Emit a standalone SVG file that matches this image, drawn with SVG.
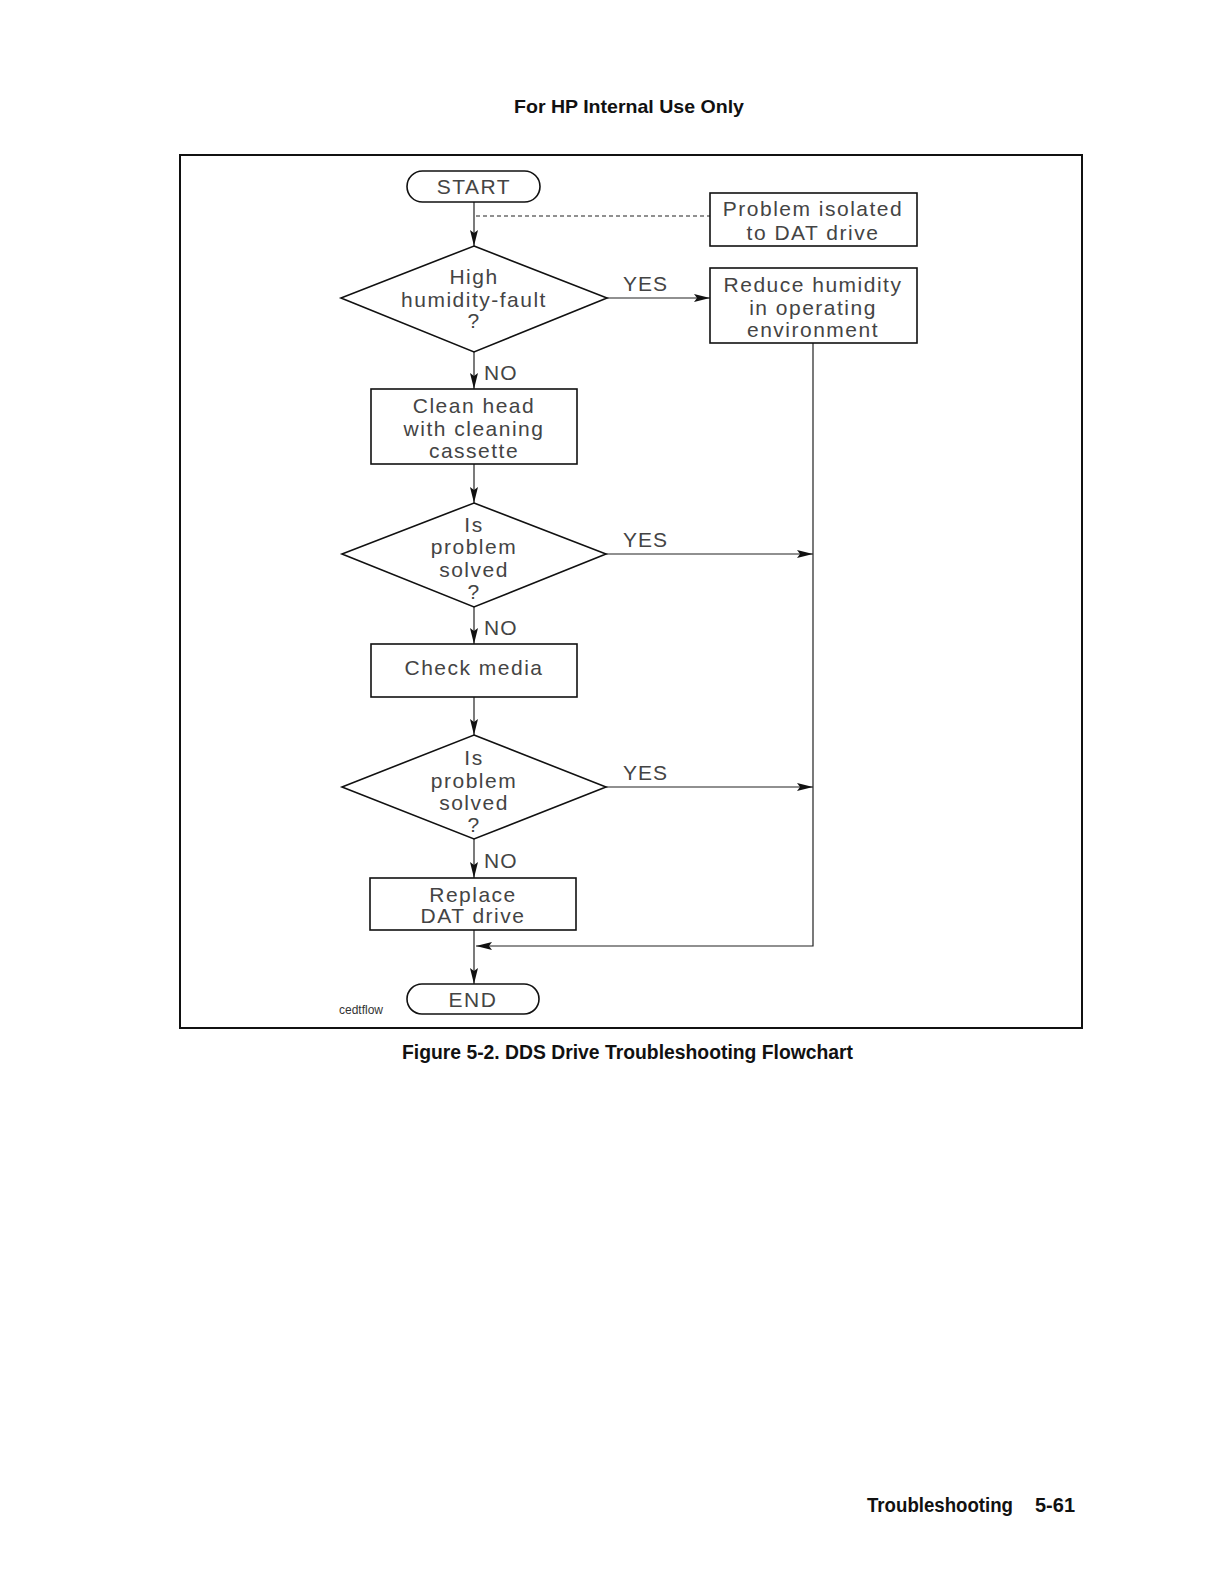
<svg xmlns="http://www.w3.org/2000/svg" width="1224" height="1584" viewBox="0 0 1224 1584">
<style>
.page{font-family:"Liberation Sans",Arial,sans-serif;font-weight:bold;fill:#111}
.t{font-family:"Liberation Sans",Arial,sans-serif;font-size:21px;fill:#444;text-anchor:middle;letter-spacing:1.5px}
.lbl{font-family:"Liberation Sans",Arial,sans-serif;font-size:21px;fill:#444;letter-spacing:1px}
.shape{fill:none;stroke:#111;stroke-width:1.6}
.c{fill:none;stroke:#222;stroke-width:1.2}
</style>
<defs>
<marker id="ah" viewBox="0 0 16 8" refX="16" refY="4" markerWidth="16" markerHeight="8" markerUnits="userSpaceOnUse" orient="auto">
<path d="M0,0 L16,4 L0,8 L3,4 Z" fill="#111"/>
</marker>
</defs>
<rect width="1224" height="1584" fill="#fff"/>
<text class="page" x="629" y="113" font-size="19" text-anchor="middle" textLength="230" lengthAdjust="spacingAndGlyphs">For HP Internal Use Only</text>
<rect x="180" y="155" width="902" height="873" fill="none" stroke="#111" stroke-width="2"/>

<g id="connectors">
<line class="c" x1="474" y1="202" x2="474" y2="246" marker-end="url(#ah)"/>
<line class="c" x1="476" y1="216" x2="710" y2="216" stroke-dasharray="4,3"/>
<line class="c" x1="607" y1="298" x2="710" y2="298" marker-end="url(#ah)"/>
<line class="c" x1="474" y1="352" x2="474" y2="389" marker-end="url(#ah)"/>
<line class="c" x1="474" y1="464" x2="474" y2="503" marker-end="url(#ah)"/>
<line class="c" x1="606" y1="554" x2="813" y2="554" marker-end="url(#ah)"/>
<line class="c" x1="474" y1="607" x2="474" y2="644" marker-end="url(#ah)"/>
<line class="c" x1="474" y1="697" x2="474" y2="735" marker-end="url(#ah)"/>
<line class="c" x1="606" y1="787" x2="813" y2="787" marker-end="url(#ah)"/>
<line class="c" x1="474" y1="839" x2="474" y2="878" marker-end="url(#ah)"/>
<line class="c" x1="474" y1="930" x2="474" y2="984" marker-end="url(#ah)"/>
<polyline class="c" points="813,343 813,946 476,946" marker-end="url(#ah)"/>
<text class="lbl" x="623" y="291">YES</text>
<text class="lbl" x="623" y="547">YES</text>
<text class="lbl" x="623" y="780">YES</text>
<text class="lbl" x="484" y="380">NO</text>
<text class="lbl" x="484" y="635">NO</text>
<text class="lbl" x="484" y="868">NO</text>
</g>

<g id="start">
<rect class="shape" x="407" y="171" width="133" height="31" rx="15.5"/>
<text class="t" x="474" y="194" font-size="22">START</text>
</g>
<g id="isolated">
<rect class="shape" x="710" y="193" width="207" height="53"/>
<text class="t" x="813" y="216">Problem isolated</text>
<text class="t" x="813" y="240">to DAT drive</text>
</g>
<g id="humidity">
<polygon class="shape" points="474,246 607,298 474,352 341,298"/>
<text class="t" x="474" y="284">High</text>
<text class="t" x="474" y="307">humidity-fault</text>
<text class="t" x="474" y="328">?</text>
</g>
<g id="reduce">
<rect class="shape" x="710" y="268" width="207" height="75"/>
<text class="t" x="813" y="292">Reduce humidity</text>
<text class="t" x="813" y="315">in operating</text>
<text class="t" x="813" y="337">environment</text>
</g>
<g id="clean">
<rect class="shape" x="371" y="389" width="206" height="75"/>
<text class="t" x="474" y="413">Clean head</text>
<text class="t" x="474" y="436">with cleaning</text>
<text class="t" x="474" y="458">cassette</text>
</g>
<g id="solved1">
<polygon class="shape" points="474,503 606,554 474,607 342,554"/>
<text class="t" x="474" y="532">Is</text>
<text class="t" x="474" y="554">problem</text>
<text class="t" x="474" y="577">solved</text>
<text class="t" x="474" y="599">?</text>
</g>
<g id="media">
<rect class="shape" x="371" y="644" width="206" height="53"/>
<text class="t" x="474" y="675">Check media</text>
</g>
<g id="solved2">
<polygon class="shape" points="474,735 606,787 474,839 342,787"/>
<text class="t" x="474" y="765">Is</text>
<text class="t" x="474" y="788">problem</text>
<text class="t" x="474" y="810">solved</text>
<text class="t" x="474" y="832">?</text>
</g>
<g id="replace">
<rect class="shape" x="370" y="878" width="206" height="52"/>
<text class="t" x="473" y="902">Replace</text>
<text class="t" x="473" y="923">DAT drive</text>
</g>
<g id="end">
<rect class="shape" x="407" y="984" width="132" height="30" rx="15"/>
<text class="t" x="473" y="1007" font-size="22">END</text>
</g>
<text x="339" y="1014" font-family="Liberation Sans, Arial, sans-serif" font-size="12" fill="#333">cedtflow</text>

<text class="page" x="402" y="1059" font-size="20" textLength="451" lengthAdjust="spacingAndGlyphs">Figure 5-2. DDS Drive Troubleshooting Flowchart</text>
<text class="page" x="867" y="1512" font-size="20" textLength="146" lengthAdjust="spacingAndGlyphs">Troubleshooting</text>
<text class="page" x="1035" y="1512" font-size="20" textLength="40" lengthAdjust="spacingAndGlyphs">5-61</text>
</svg>
